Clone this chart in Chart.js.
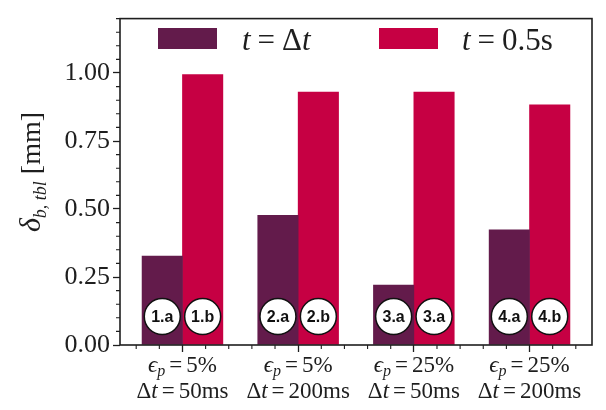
<!DOCTYPE html>
<html><head><meta charset="utf-8">
<script src="https://cdn.jsdelivr.net/npm/chart.js@4"></script>
<style>html,body{margin:0;padding:0;background:#fff}#wrap{width:606px;height:410px;position:relative}</style>
</head><body><div id="wrap"><canvas id="c"></canvas></div>
<script>
// ---- data ----
const categoryIndex = [0, 1, 2, 3];
const epsLabels = ['5%', '5%', '25%', '25%'];
const dtLabels = ['50ms', '200ms', '50ms', '200ms'];
const valuesDt = [0.327, 0.477, 0.220, 0.423];
const values05 = [0.994, 0.930, 0.930, 0.883];
const tagsDt = ['1.a', '2.a', '3.a', '4.a'];
const tags05 = ['1.b', '2.b', '3.a', '4.b'];
const yTicks = [0, 0.25, 0.5, 0.75, 1.0];
const seriesNames = ['t = Δt', 't = 0.5s'];

// ---- style ----
const COLORS = ['#631b4b', '#c60043'];
const INK = '#1e1e1e';
const SERIF = "'Liberation Serif', 'DejaVu Serif', serif";

function drawRich(ctx, segs, x, baseline, align) {
  let w = 0;
  segs.forEach(s => { ctx.font = s.font; s.w = ctx.measureText(s.t).width; w += s.w + (s.gap || 0); });
  let cx = align === 'center' ? x - w / 2 : x;
  segs.forEach(s => {
    ctx.font = s.font;
    ctx.fillText(s.t, cx, baseline + (s.dy || 0));
    cx += s.w + (s.gap || 0);
  });
}

const decor = {
  id: 'decor',
  afterDatasetsDraw(chart) {
    const ctx = chart.ctx, ys = chart.scales.y;
    ctx.save();
    chart.data.datasets.forEach((ds, di) => {
      const meta = chart.getDatasetMeta(di);
      meta.data.forEach((el, i) => {
        const cx = el.x, cy = ys.getPixelForValue(0.105);
        ctx.beginPath();
        ctx.arc(cx, cy, 18, 0, Math.PI * 2);
        ctx.fillStyle = '#fff'; ctx.fill();
        ctx.lineWidth = 1.5; ctx.strokeStyle = '#111'; ctx.stroke();
        ctx.fillStyle = '#111';
        ctx.font = "bold 16px 'Liberation Sans', Arial, sans-serif";
        ctx.textAlign = 'center'; ctx.textBaseline = 'middle';
        ctx.fillText(ds.tags[i], cx, cy + 1);
      });
    });
    ctx.restore();
  },
  afterDraw(chart) {
    const ctx = chart.ctx, a = chart.chartArea;
    const xs = chart.scales.x, ys = chart.scales.y;
    ctx.save();
    // frame
    ctx.strokeStyle = INK; ctx.lineWidth = 1.6;
    ctx.strokeRect(a.left, a.top, a.right - a.left, a.bottom - a.top);
    // minor ticks
    ctx.lineWidth = 1.1;
    ctx.beginPath();
    for (let k = 1; k <= 24; k++) {
      if (k % 5 === 0) continue;
      const py = ys.getPixelForValue(k * 0.05);
      ctx.moveTo(a.left - 4, py); ctx.lineTo(a.left, py);
    }
    for (let k = -2; k <= 17; k++) {
      if (k % 5 === 0) continue;
      const px = xs.getPixelForValue(k * 0.2);
      ctx.moveTo(px, a.bottom); ctx.lineTo(px, a.bottom + 4);
    }
    ctx.stroke();

    // x category labels
    ctx.fillStyle = INK; ctx.textAlign = 'left'; ctx.textBaseline = 'alphabetic';
    const fR = '23px ' + SERIF, fI = 'italic 23px ' + SERIF, fS = 'italic 16px ' + SERIF;
    categoryIndex.forEach((c, i) => {
      const px = xs.getPixelForValue(c);
      drawRich(ctx, [
        {t: 'ϵ', font: fI},
        {t: 'p', font: fS, dy: 4, gap: 4},
        {t: '=', font: fR, gap: 4},
        {t: epsLabels[i], font: fR}
      ], px, 372, 'center');
      drawRich(ctx, [
        {t: 'Δ', font: fR},
        {t: 't', font: fI, gap: 4},
        {t: '=', font: fR, gap: 4},
        {t: dtLabels[i], font: fR}
      ], px, 398, 'center');
    });

    // legend
    const lf = '31px ' + SERIF, lfi = 'italic 31px ' + SERIF;
    const legendItems = [
      {box: 158, text: 242, segs: [{t: 't', font: lfi, gap: 7}, {t: '=', font: lf, gap: 7}, {t: 'Δ', font: lf}, {t: 't', font: lfi}]},
      {box: 379, text: 462, segs: [{t: 't', font: lfi, gap: 7}, {t: '=', font: lf, gap: 7}, {t: '0.5s', font: lf}]}
    ];
    legendItems.forEach((it, i) => {
      ctx.fillStyle = chart.data.datasets[i].backgroundColor;
      ctx.fillRect(it.box, 28, 59, 21);
      ctx.fillStyle = INK;
      drawRich(ctx, it.segs, it.text, 50, 'left');
    });

    // y title (rotated)
    ctx.translate(40, 172);
    ctx.rotate(-Math.PI / 2);
    drawRich(ctx, [
      {t: 'δ', font: 'italic 30px ' + SERIF},
      {t: 'b, tbl', font: 'italic 18px ' + SERIF, dy: 6, gap: 7},
      {t: '[mm]', font: '28px ' + SERIF}
    ], 0, 0, 'center');
    ctx.restore();
  }
};

new Chart(document.getElementById('c'), {
  type: 'bar',
  data: {
    datasets: [
      {label: seriesNames[0], data: categoryIndex.map((x, i) => ({x, y: valuesDt[i]})), backgroundColor: COLORS[0], tags: tagsDt},
      {label: seriesNames[1], data: categoryIndex.map((x, i) => ({x, y: values05[i]})), backgroundColor: COLORS[1], tags: tags05}
    ]
  },
  options: {
    responsive: true, maintainAspectRatio: false, animation: false,
    layout: {padding: {top: 3, right: 14, left: 0, bottom: 0}},
    datasets: {bar: {barThickness: 40.4, grouped: true}},
    plugins: {legend: {display: false}, tooltip: {enabled: false}},
    scales: {
      x: {
        type: 'linear', min: -0.54, max: 3.54, offset: false,
        ticks: {stepSize: 1, includeBounds: false, display: false},
        grid: {offset: false, drawOnChartArea: false, drawTicks: true, tickLength: 7, tickWidth: 1.3, tickColor: INK},
        border: {display: false},
        afterFit(s) { s.height = 65; }
      },
      y: {
        min: 0, max: 1.2,
        ticks: {stepSize: 0.25, includeBounds: false, padding: 3, color: INK,
          font: {family: SERIF, size: 26}, callback: v => Number(v).toFixed(2)},
        afterBuildTicks(s) { s.ticks = yTicks.map(v => ({value: v})); },
        grid: {drawOnChartArea: false, drawTicks: true, tickLength: 7, tickWidth: 1.3, tickColor: INK},
        border: {display: false},
        afterFit(s) { s.width = 120; }
      }
    }
  },
  plugins: [decor]
});
</script>
</body></html>
